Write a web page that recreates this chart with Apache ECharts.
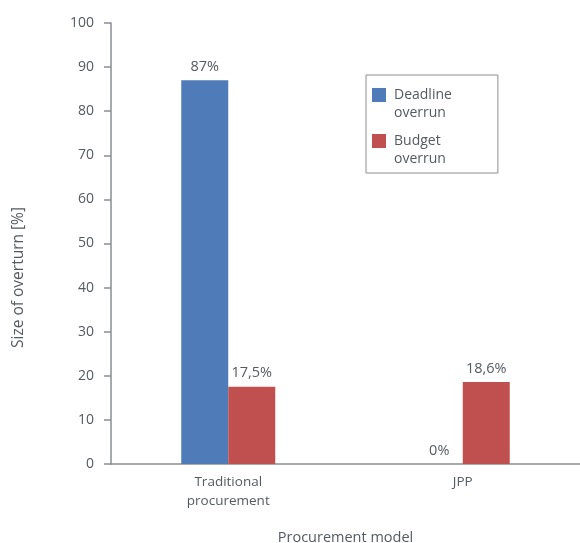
<!DOCTYPE html>
<html>
<head>
<meta charset="utf-8">
<script src="https://cdn.jsdelivr.net/npm/echarts@6/dist/echarts.min.js"></script>
<style>
  html, body { margin: 0; padding: 0; background: #fff; }
  #chart { width: 580px; height: 543px; }
</style>
</head>
<body>
<div id="chart"></div>
<script>
// Procurement models on the category axis
const categories = ['Traditional\nprocurement', 'JPP'];
// Overrun sizes in percent
const deadlineOverrun = [87, 0];
const budgetOverrun = [17.5, 18.6];
const yTicks = [0, 10, 20, 30, 40, 50, 60, 70, 80, 90, 100];

const textColor = '#555a60';
const axisColor = '#8a8d93';
const font = 'Open Sans';

const fmtPct = v => String(v).replace('.', ',') + '%';

// Legend swatch sits level with the first line of a two-line name:
// the path's invisible lower edge stretches the symbol box downwards.
const swatch = 'path://M0,0h14v14h-14zM0,32h14';

const chart = echarts.init(document.getElementById('chart'), null, { renderer: 'canvas' });

chart.setOption({
  animation: false,
  textStyle: { fontFamily: font, color: textColor },
  grid: { left: 111, right: 0, top: 23, bottom: 79, containLabel: false, outerBoundsMode: 'none' },
  legend: {
    orient: 'vertical',
    left: 366,
    top: 75,
    padding: [11, 46, 5, 6],
    itemWidth: 14,
    itemHeight: 32,
    itemGap: 10,
    borderColor: '#8e8e8e',
    borderWidth: 1,
    icon: swatch,
    data: ['Deadline\noverrun', 'Budget\noverrun'],
    textStyle: { fontFamily: font, fontSize: 14, color: textColor, lineHeight: 18, padding: [0, 0, 0, 3] }
  },
  xAxis: {
    type: 'category',
    data: categories,
    name: 'Procurement model',
    nameLocation: 'middle',
    nameGap: 66,
    nameTextStyle: { fontFamily: font, fontSize: 14.5, color: textColor },
    axisLine: { lineStyle: { color: axisColor, width: 1.5 } },
    axisTick: { show: false },
    axisLabel: { fontFamily: font, fontSize: 13.5, color: textColor, lineHeight: 19, margin: 9 }
  },
  yAxis: {
    type: 'value',
    min: yTicks[0],
    max: yTicks[yTicks.length - 1],
    interval: 10,
    axisLine: { show: true, lineStyle: { color: axisColor, width: 1.5 } },
    axisTick: { show: true, length: 7, lineStyle: { color: axisColor, width: 1.5 } },
    splitLine: { show: false },
    axisLabel: { fontFamily: font, fontSize: 14, color: textColor, margin: 17 }
  },
  graphic: [{
    type: 'text',
    left: 11,
    top: 207,
    rotation: Math.PI / 2,
    style: {
      text: 'Size of overturn [%]',
      fontFamily: font,
      fontSize: 15.5,
      fill: textColor
    }
  }],
  series: [
    {
      name: 'Deadline\noverrun',
      type: 'bar',
      data: deadlineOverrun,
      barWidth: 47,
      barGap: '0%',
      itemStyle: { color: '#4f7cb9' },
      label: {
        show: true,
        position: 'top',
        distance: 6,
        fontFamily: font,
        fontSize: 14.5,
        color: textColor,
        formatter: p => fmtPct(p.value)
      }
    },
    {
      name: 'Budget\noverrun',
      type: 'bar',
      data: budgetOverrun,
      barWidth: 47,
      barGap: '0%',
      itemStyle: { color: '#c0504f' },
      label: {
        show: true,
        position: 'top',
        distance: 6,
        fontFamily: font,
        fontSize: 14.5,
        color: textColor,
        formatter: p => fmtPct(p.value)
      }
    }
  ]
});
</script>
</body>
</html>
